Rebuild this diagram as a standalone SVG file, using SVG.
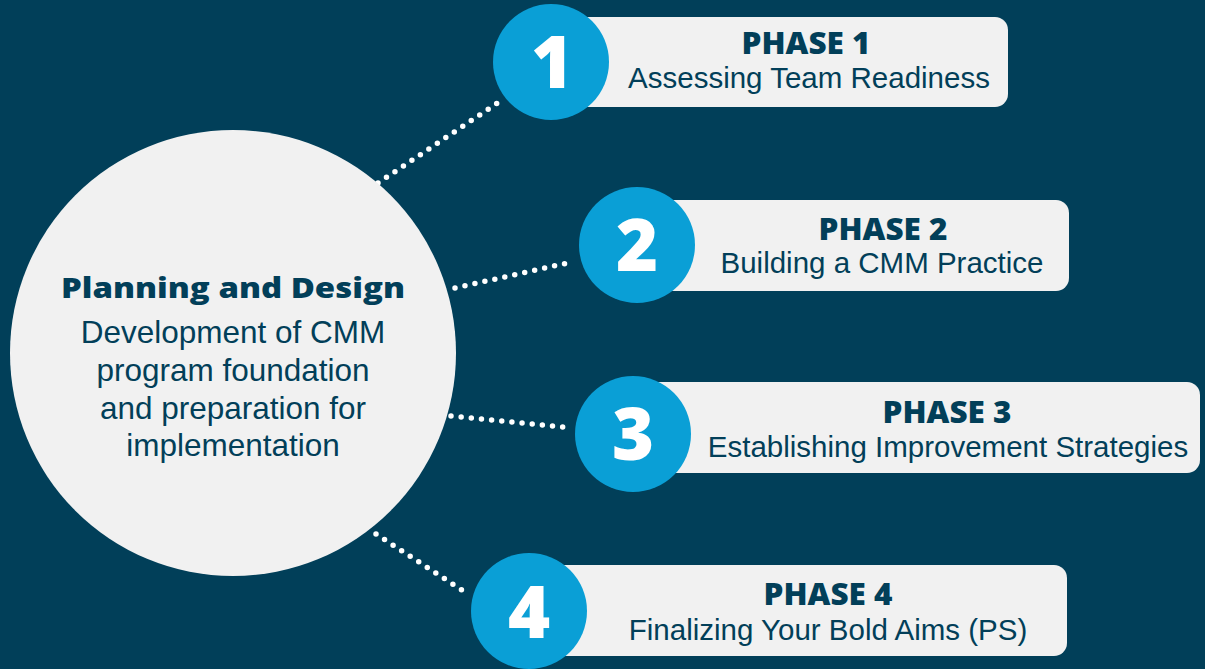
<svg xmlns="http://www.w3.org/2000/svg" width="1205" height="669" viewBox="0 0 1205 669">
<style>
.box{fill:#f1f1f1}
.num{fill:#0a9fd6}
.numt{font-family:"Open Sans","DejaVu Sans",sans-serif;font-weight:800;font-size:72px;fill:#ffffff;text-anchor:middle}
.ph{font-family:"Open Sans","DejaVu Sans",sans-serif;font-weight:800;font-size:30px;fill:#023f59;text-anchor:middle}
.sub{font-family:"Liberation Sans",Arial,sans-serif;font-size:29.5px;fill:#023f59;text-anchor:middle}
.ctr{font-family:"Liberation Sans",Arial,sans-serif;font-size:31.5px;fill:#023f59;text-anchor:middle}
.dots{stroke:#ffffff;stroke-width:5.5;stroke-linecap:round;stroke-dasharray:0 10.2;fill:none}
</style>
<rect width="1205" height="669" fill="#013f59"/>
<g id="connectors">
<line class="dots" x1="378" y1="183" x2="502" y2="100"/>
<line class="dots" x1="455" y1="288" x2="572" y2="262"/>
<line class="dots" x1="451" y1="416" x2="572" y2="428"/>
<line class="dots" x1="376" y1="534" x2="468" y2="594"/>
</g>
<g id="center">
<circle cx="233" cy="353" r="223" fill="#f1f1f1"/>
<text x="233" y="298" style="font-family:'Open Sans','DejaVu Sans',sans-serif;font-weight:800;font-size:29px;fill:#023f59;text-anchor:middle" textLength="344" lengthAdjust="spacingAndGlyphs">Planning and Design</text>
<text class="ctr" x="233" y="343">Development of CMM</text>
<text class="ctr" x="233" y="381">program foundation</text>
<text class="ctr" x="233" y="419">and preparation for</text>
<text class="ctr" x="233" y="456">implementation</text>
</g>
<g id="phase1">
<rect class="box" x="560" y="17" width="448" height="90" rx="13"/>
<circle class="num" cx="551" cy="62" r="58"/>
<text class="numt" x="552" y="88">1</text>
<text class="ph" x="806" y="54" textLength="129" lengthAdjust="spacingAndGlyphs">PHASE 1</text>
<text class="sub" x="809" y="88">Assessing Team Readiness</text>
</g>
<g id="phase2">
<rect class="box" x="630" y="200" width="439" height="91" rx="13"/>
<circle class="num" cx="637" cy="245" r="58"/>
<text class="numt" x="637" y="271">2</text>
<text class="ph" x="883" y="240" textLength="129" lengthAdjust="spacingAndGlyphs">PHASE 2</text>
<text class="sub" x="882" y="273">Building a CMM Practice</text>
</g>
<g id="phase3">
<rect class="box" x="630" y="382" width="570" height="91" rx="13"/>
<circle class="num" cx="633" cy="434" r="58"/>
<text class="numt" x="633" y="460">3</text>
<text class="ph" x="947" y="423" textLength="129" lengthAdjust="spacingAndGlyphs">PHASE 3</text>
<text class="sub" x="948" y="457">Establishing Improvement Strategies</text>
</g>
<g id="phase4">
<rect class="box" x="540" y="565" width="527" height="91" rx="13"/>
<circle class="num" cx="529" cy="611" r="58"/>
<text class="numt" x="529" y="638">4</text>
<text class="ph" x="828" y="605" textLength="129" lengthAdjust="spacingAndGlyphs">PHASE 4</text>
<text class="sub" x="828" y="640">Finalizing Your Bold Aims (PS)</text>
</g>
</svg>
